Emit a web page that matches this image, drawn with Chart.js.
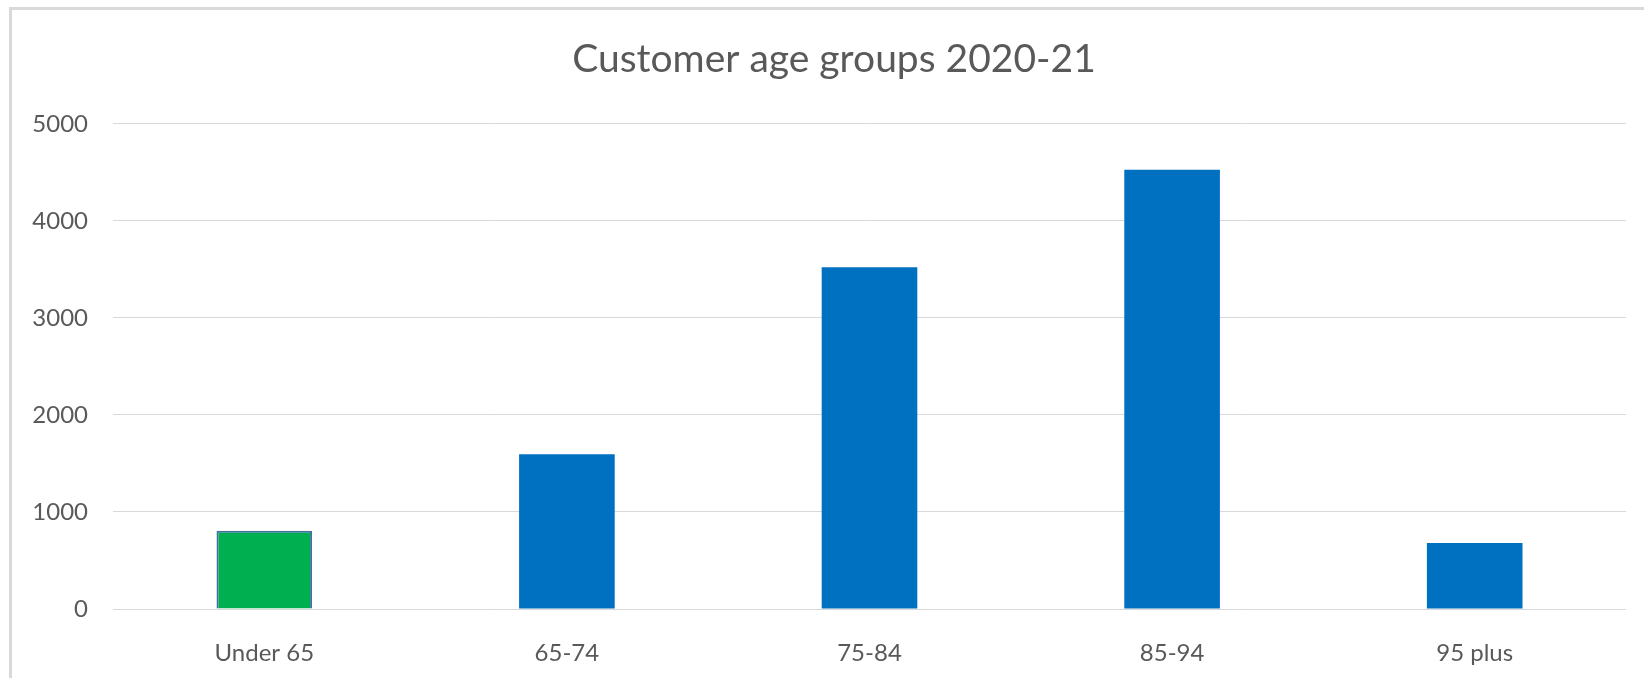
<!DOCTYPE html>
<html>
  <head>
    <meta charset="UTF-8">
    <script src="https://cdn.jsdelivr.net/npm/chart.js@4.4.1/dist/chart.umd.min.js"></script>
    <title>Customer age groups 2020-21</title>
    <style>
      html, body { margin: 0; padding: 0; background: #fff; overflow: hidden; }
      .frame {
        position: absolute; left: 9px; top: 7px;
        width: 1700px; height: 700px;
        border-left: 3px solid #d9d9d9; border-top: 3px solid #d9d9d9;
      }
      #ageChart { position: absolute; left: 0; top: 0; }
    </style>
  </head>
  <body>
    <div class="frame">
      <canvas id="ageChart" width="1632" height="668"></canvas>
    </div>
    <script>
      // values
      const ageGroups = ['Under 65', '65-74', '75-84', '85-94', '95 plus'];
      const customers = [807, 1595, 3523, 4526, 680];
      const barColors = ['#00B050', '#0070C0', '#0070C0', '#0070C0', '#0070C0'];
      const barBorders = ['#41719C', '#0070C0', '#0070C0', '#0070C0', '#0070C0'];
      const borderWidths = [2, 0, 0, 0, 0];

      const textColor = '#595959';
      const gridColor = '#d9d9d9';

      // the excel title sits centred on the whole frame, not on the plot
      const titleShift = {
        id: 'titleShift',
        afterLayout: function (chart) {
          if (chart.titleBlock) chart.titleBlock.left += 30;
        }
      };

      var ctx = document.getElementById('ageChart').getContext('2d');
      var ageChart = new Chart(ctx, {
        type: 'bar',
        data: {
          labels: ageGroups,
          datasets: [{
            label: 'Customers',
            data: customers,
            backgroundColor: barColors,
            borderColor: barBorders,
            borderWidth: borderWidths,
            barPercentage: 0.316,
            categoryPercentage: 1.0
          }]
        },
        options: {
          responsive: false,
          animation: false,
          layout: { padding: { left: 0, right: 18, top: 0, bottom: 0 } },
          plugins: {
            legend: { display: false },
            tooltip: { enabled: false },
            title: {
              display: true,
              text: 'Customer age groups 2020-21',
              color: textColor,
              font: { family: 'Lato', size: 39, weight: 'normal', lineHeight: 1.2 },
              padding: { top: 26, bottom: 41 }
            }
          },
          scales: {
            x: {
              grid: { display: false },
              border: { display: false },
              ticks: {
                color: textColor,
                font: { family: 'Lato', size: 24 },
                padding: 22,
                maxRotation: 0
              },
              afterFit: function (scale) { scale.height = 69; }
            },
            y: {
              min: 0,
              max: 5000,
              grid: { color: gridColor, lineWidth: 1, drawTicks: false },
              border: { display: false },
              ticks: {
                stepSize: 1000,
                color: textColor,
                font: { family: 'Lato', size: 24 },
                padding: 25,
                callback: function (value) { return String(value); }
              },
              afterFit: function (scale) { scale.width = 101; }
            }
          }
        },
        plugins: [titleShift]
      });
    </script>
  </body>
</html>
